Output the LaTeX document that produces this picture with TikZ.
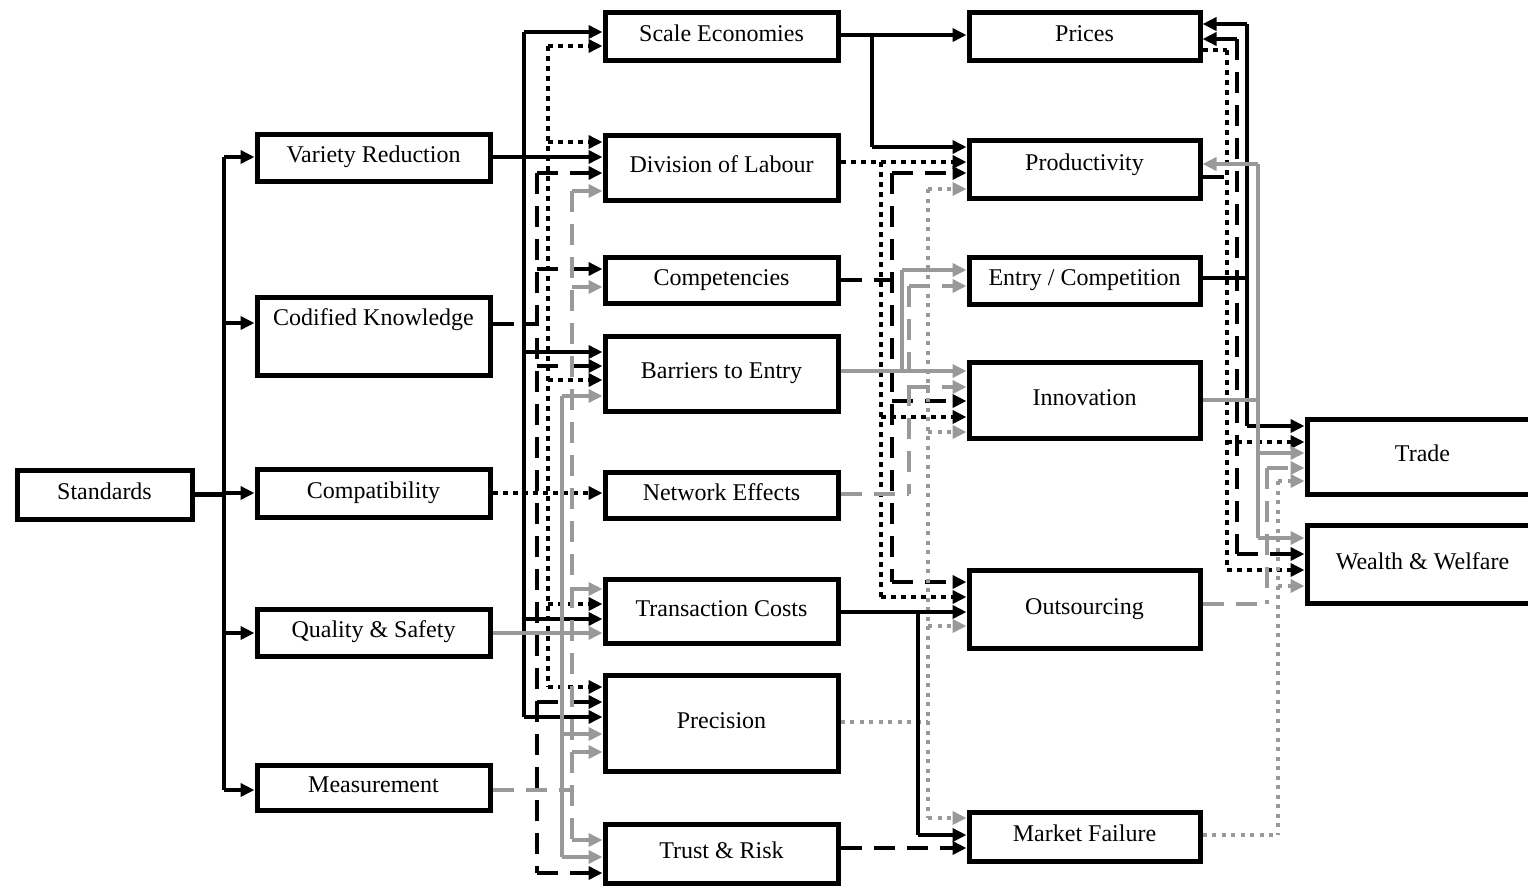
\documentclass[tikz,border=0pt]{standalone}
\usepackage{fontspec}
\setmainfont{Liberation Serif}
\usetikzlibrary{arrows.meta}
\definecolor{gr}{gray}{0.6}
\tikzset{
 box/.style={draw, line width=5pt, inner sep=0pt, font=\fontsize{24}{28}\selectfont, text height=16pt, text depth=6pt},
 cA/.style={box, minimum width=233pt},
 cB/.style={box, minimum width=233pt},
 cC/.style={box, minimum width=231pt},
 lsol/.style={line width=4.5pt, black},
 ldsh/.style={line width=4.5pt, black, dash pattern=on 21pt off 12pt},
 ldot/.style={line width=4.5pt, black, dash pattern=on 5pt off 5pt},
 lgsol/.style={line width=4.2pt, gr},
 lgdsh/.style={line width=4.2pt, gr, dash pattern=on 21pt off 12pt},
 lgdot/.style={line width=4.2pt, gr, dash pattern=on 4pt off 5.5pt},
 tip/.style={-{Triangle[length=14pt,width=13pt]}},
}
\begin{document}
\begin{tikzpicture}[x=1pt,y=-1pt]
\useasboundingbox (0,0) rectangle (1528,887);
% nodes
\node[box, minimum width=175pt, minimum height=49pt] (std) at (104.5,494.5) {Standards};
\node[cA, minimum height=47pt] (vr) at (373.5,157.5) {Variety Reduction};
\node[cA, minimum height=78pt, text depth=38pt] (ck) at (373.5,336) {Codified Knowledge};
\node[cA, minimum height=48pt] (cp) at (373.5,493) {Compatibility};
\node[cA, minimum height=47pt] (qs) at (373.5,632.5) {Quality \& Safety};
\node[cA, minimum height=45pt] (ms) at (373.5,787.5) {Measurement};
\node[cB, minimum height=48pt] (se) at (721.5,36) {Scale Economies};
\node[cB, minimum height=65pt] (de) at (721.5,167.5) {Division of Labour};
\node[cB, minimum height=46pt] (co) at (721.5,280) {Competencies};
\node[cB, minimum height=75pt] (be) at (721.5,373.5) {Barriers to Entry};
\node[cB, minimum height=46pt] (nw) at (721.5,495) {Network Effects};
\node[cB, minimum height=64pt] (tc) at (721.5,611) {Transaction Costs};
\node[cB, minimum height=96pt] (pr) at (721.5,723) {Precision};
\node[cB, minimum height=59pt] (tr) at (721.5,853.5) {Trust \& Risk};
\node[cC, minimum height=48pt] (pc) at (1084.5,36) {Prices};
\node[cC, minimum height=58pt, text depth=14pt] (pd) at (1084.5,169) {Productivity};
\node[cC, minimum height=47pt] (ec) at (1084.5,280.5) {Entry / Competition};
\node[cC, minimum height=76pt] (in) at (1084.5,400) {Innovation};
\node[cC, minimum height=78pt] (ou) at (1084.5,609) {Outsourcing};
\node[cC, minimum height=49pt] (mf) at (1084.5,836.5) {Market Failure};
\node[cC, minimum height=75pt] (td) at (1422.5,456.5) {Trade};
\node[cC, minimum height=78pt] (ww) at (1422.5,564) {Wealth \& Welfare};
% Standards
\draw[lsol] (std.east) -- (224,494.5);
\draw[lsol] (224,157) -- (224,790);
\foreach \n/\y in {vr/157, ck/323, cp/493, qs/633, ms/790} \draw[lsol,tip] (224,\y) -- (\n.west |- 0,\y);
% Variety Reduction (solid)
\draw[lsol,tip] (vr.east |- 0,157) -- (de.west |- 0,157);
\draw[lsol] (524,32) -- (524,717);
\foreach \n/\y in {se/32, be/352, tc/619, pr/717} \draw[lsol,tip] (524,\y) -- (\n.west |- 0,\y);
% Compatibility (dotted)
\draw[ldot,tip] (cp.east |- 0,493) -- (nw.west |- 0,493);
\draw[ldot] (548,46) -- (548,687);
\foreach \n/\y in {se/46, de/142, be/380, tc/604, pr/687} \draw[ldot,tip] (548,\y) -- (\n.west |- 0,\y);
% Codified Knowledge (dashed)
\draw[ldsh] (ck.east |- 0,324) -- (537,324);
\draw[ldsh] (537,173) -- (537,873);
\foreach \n/\y in {de/173, co/269, be/366, pr/702, tr/873} \draw[ldsh,tip] (537,\y) -- (\n.west |- 0,\y);
% Measurement (grey dashed)
\draw[lgdsh] (ms.east |- 0,790) -- (572,790);
\draw[lgdsh] (572,191) -- (572,840);
\foreach \n/\y in {de/191, co/287, tc/589, pr/752, tr/840} \draw[lgdsh,tip] (572,\y) -- (\n.west |- 0,\y);
% Quality & Safety (grey solid)
\draw[lgsol,tip] (qs.east |- 0,633) -- (tc.west |- 0,633);
\draw[lgsol] (562,396) -- (562,857);
\foreach \n/\y in {be/396, pr/734, tr/857} \draw[lgsol,tip] (562,\y) -- (\n.west |- 0,\y);
% Scale Economies
\draw[lsol,tip] (se.east |- 0,35) -- (pc.west |- 0,35);
\draw[lsol] (872,35) -- (872,147);
\draw[lsol,tip] (872,147) -- (pd.west |- 0,147);
% Division of Labour (dotted)
\draw[ldot,tip] (de.east |- 0,162) -- (pd.west |- 0,162);
\draw[ldot] (881,162) -- (881,597);
\foreach \n/\y in {in/417, ou/597} \draw[ldot,tip] (881,\y) -- (\n.west |- 0,\y);
% Competencies (dashed)
\draw[ldsh] (co.east |- 0,280) -- (892,280);
\draw[ldsh] (892,173) -- (892,582);
\foreach \n/\y in {pd/173, in/401, ou/582} \draw[ldsh,tip] (892,\y) -- (\n.west |- 0,\y);
% Barriers to Entry (grey solid)
\draw[lgsol,tip] (be.east |- 0,371) -- (in.west |- 0,371);
\draw[lgsol] (902,270) -- (902,371);
\draw[lgsol,tip] (902,270) -- (ec.west |- 0,270);
% Network Effects (grey dashed)
\draw[lgdsh] (nw.east |- 0,494) -- (909,494);
\draw[lgdsh] (909,286) -- (909,494);
\foreach \n/\y in {ec/286, in/387} \draw[lgdsh,tip] (909,\y) -- (\n.west |- 0,\y);
% Precision (grey dotted)
\draw[lgdot] (pr.east |- 0,722) -- (928,722);
\draw[lgdot] (928,189) -- (928,818);
\foreach \n/\y in {pd/189, in/432, ou/626, mf/818} \draw[lgdot,tip] (928,\y) -- (\n.west |- 0,\y);
% Transaction Costs (solid)
\draw[lsol,tip] (tc.east |- 0,612) -- (ou.west |- 0,612);
\draw[lsol] (918,612) -- (918,835);
\draw[lsol,tip] (918,835) -- (mf.west |- 0,835);
% Trust & Risk (dashed)
\draw[ldsh,tip] (tr.east |- 0,848) -- (mf.west |- 0,848);
% Entry / Competition (solid)
\draw[lsol] (ec.east |- 0,278) -- (1247,278);
\draw[lsol] (1247,24) -- (1247,426);
\draw[lsol,tip] (1247,24) -- (pc.east |- 0,24);
\draw[lsol,tip] (1247,426) -- (td.west |- 0,426);
% Productivity (dashed)
\draw[ldsh] (pd.east |- 0,177) -- (1237,177);
\draw[ldsh] (1237,39) -- (1237,554);
\draw[ldsh,tip] (1237,39) -- (pc.east |- 0,39);
\draw[ldsh,tip] (1237,554) -- (ww.west |- 0,554);
% Prices (dotted)
\draw[ldot] (pc.east |- 0,50) -- (1227,50);
\draw[ldot] (1227,50) -- (1227,570);
\foreach \n/\y in {td/442, ww/570} \draw[ldot,tip] (1227,\y) -- (\n.west |- 0,\y);
% Innovation (grey solid)
\draw[lgsol] (in.east |- 0,400) -- (1258,400);
\draw[lgsol] (1258,164) -- (1258,538);
\draw[lgsol,tip] (1258,164) -- (pd.east |- 0,164);
\foreach \n/\y in {td/453, ww/538} \draw[lgsol,tip] (1258,\y) -- (\n.west |- 0,\y);
% Outsourcing (grey dashed)
\draw[lgdsh] (ou.east |- 0,604) -- (1267,604);
\draw[lgdsh] (1267,468) -- (1267,604);
\draw[lgdsh,tip] (1267,468) -- (td.west |- 0,468);
% Market Failure (grey dotted)
\draw[lgdot] (mf.east |- 0,835) -- (1278,835);
\draw[lgdot] (1278,481) -- (1278,835);
\foreach \n/\y in {td/481, ww/586} \draw[lgdot,tip] (1278,\y) -- (\n.west |- 0,\y);
\end{tikzpicture}
\end{document}
